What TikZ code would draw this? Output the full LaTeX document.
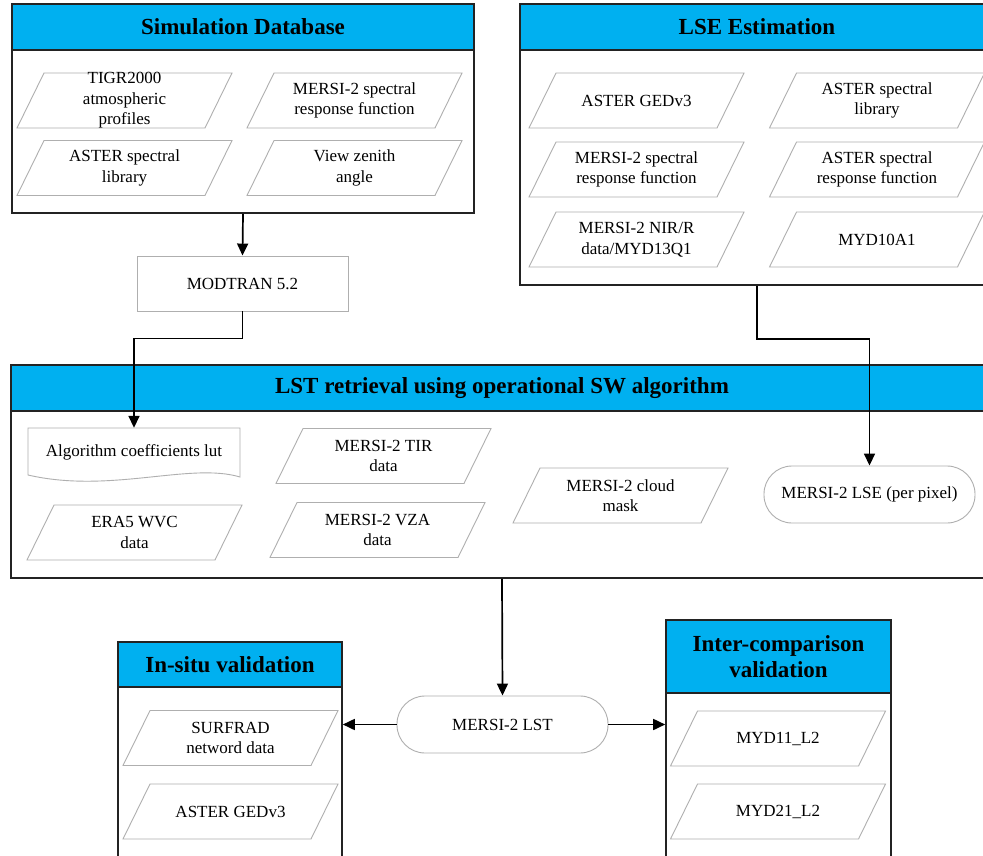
\documentclass[tikz,border=0pt]{standalone}
\usepackage{fontspec}
\setmainfont{Liberation Serif}
\usetikzlibrary{arrows.meta}
\definecolor{hdrblue}{RGB}{0,176,240}
\definecolor{pgray}{RGB}{175,175,175}
\definecolor{bord}{RGB}{35,35,35}
\newcommand\pgm[4]{%
  \draw[pline, shift={(#2,#3)}] (-107.5,27.5) -- (80.5,27.5) -- (107.5,-27.5) -- (-80.5,-27.5) -- cycle;
  \node[ptext] (#1) at (#2,#3) {#4};
}
\begin{document}
\begin{tikzpicture}[x=1pt,y=-1pt,
  ptext/.style={font=\fontsize{17}{20.5}\selectfont, align=center, inner sep=0pt},
  pline/.style={draw=pgray, line width=0.9pt},
  panel/.style={draw=bord, line width=1.6pt, fill=white, rectangle, inner sep=0pt},
  hdr/.style={draw=bord, line width=1.6pt, fill=hdrblue, rectangle, inner sep=0pt, anchor=north,
    font=\fontsize{23}{26}\selectfont\bfseries, align=center},
  gbox/.style={draw=pgray, line width=0.9pt, rectangle, inner sep=0pt, font=\fontsize{17}{20.5}\selectfont, align=center},
  arr/.style={draw=black, line width=1.7pt, -{Triangle[length=12pt,width=11pt]}}
]
\clip (0,0) rectangle (983,856);
\fill[white] (0,0) rectangle (983,856);

% Simulation Database panel
\node[panel, minimum width=462, minimum height=209] (sim) at (243,108.5) {};
\node[hdr, minimum width=462, minimum height=46] (simh) at (sim.north) {Simulation Database};
\pgm{tigr}{124.5}{100.5}{TIGR2000\\atmospheric\\profiles}
\pgm{srf1}{354.5}{100.5}{MERSI-2 spectral\\response function}
\pgm{asl1}{124.5}{168}{ASTER spectral\\library}
\pgm{vza1}{354.5}{168}{View zenith\\angle}

% LSE panel
\node[panel, minimum width=474, minimum height=281] (lse) at (757,144.5) {};
\node[hdr, minimum width=474, minimum height=46] (lseh) at (lse.north) {LSE Estimation};
\pgm{ged1}{636.5}{100.5}{ASTER GEDv3}
\pgm{asl2}{877}{100.5}{ASTER spectral\\library}
\pgm{srf2}{636.5}{169.5}{MERSI-2 spectral\\response function}
\pgm{asrf}{877}{169.5}{ASTER spectral\\response function}
\pgm{nir}{636.5}{239.5}{MERSI-2 NIR/R\\data/MYD13Q1}
\pgm{myd10}{877}{239.5}{MYD10A1}

% MODTRAN
\node[gbox, minimum width=211, minimum height=55] (modtran) at (242.5,283.5) {MODTRAN 5.2};

% LST retrieval panel
\node[panel, minimum width=982, minimum height=213] (lstp) at (502,471.5) {};
\node[hdr, minimum width=982, minimum height=46] (lstph) at (lstp.north) {LST retrieval using operational SW algorithm};
\draw[pline] (28,428) -- (240,428) -- (240,477) .. controls (190,462) and (110,494) .. (28,475) -- cycle;
\node[ptext, minimum width=212, minimum height=49] (lut) at (134,452.5) {\raisebox{4pt}{Algorithm coefficients lut}};
\pgm{tir}{383.5}{456}{MERSI-2 TIR\\data}
\pgm{era}{134.5}{532.5}{ERA5 WVC\\data}
\pgm{vza2}{377.5}{530}{MERSI-2 VZA\\data}
\pgm{cloud}{620.5}{495.5}{MERSI-2 cloud\\mask}
\node[gbox, rounded corners=28pt, minimum width=211, minimum height=57] (lsepix) at (869.5,494.5) {MERSI-2 LSE (per pixel)};

% MERSI-2 LST
\node[gbox, rounded corners=28pt, minimum width=211, minimum height=57] (lst) at (502.5,724.5) {MERSI-2 LST};

% In-situ panel
\node[panel, minimum width=224, minimum height=228] (insitu) at (230,756) {};
\node[hdr, minimum width=224, minimum height=45] (insituh) at (insitu.north) {In-situ validation};
\pgm{surf}{230.5}{738}{SURFRAD\\netword data}
\pgm{ged2}{230.5}{811.5}{ASTER GEDv3}

% Inter-comparison panel
\node[panel, minimum width=225, minimum height=250] (inter) at (778.5,745) {};
\node[hdr, minimum width=225, minimum height=73] (interh) at (inter.north) {Inter-comparison\\validation};
\pgm{myd11}{778}{738.5}{MYD11\_L2}
\pgm{myd21}{778}{811.5}{MYD21\_L2}

% connectors
\draw[arr] (sim.south) -- (modtran.north);
\draw[arr] (modtran.south) -- ++(0,27) -| (lut.north);
\draw[arr] (lse.south) -- ++(0,53) -| (lsepix.north);
\draw[arr] (lstp.south) -- (lst.north);
\draw[arr] (lst.west) -- (lst.west -| insitu.east);
\draw[arr] (lst.east) -- (lst.east -| inter.west);
\end{tikzpicture}
\end{document}
